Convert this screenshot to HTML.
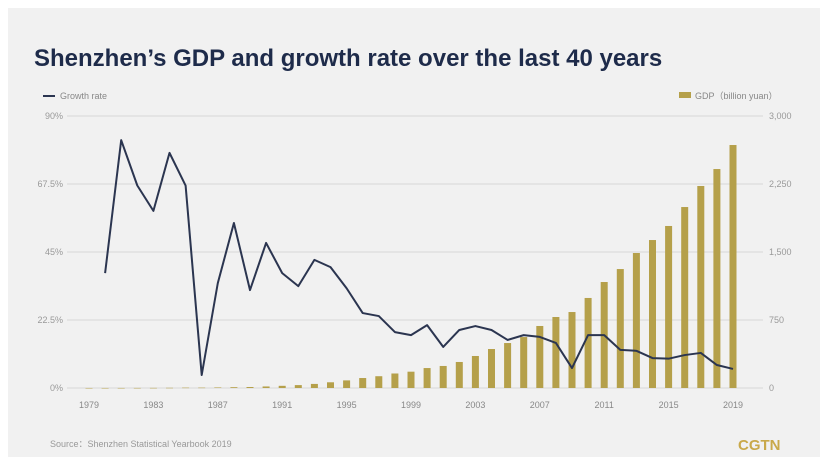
<!DOCTYPE html>
<html><head><meta charset="utf-8"><style>
body{margin:0;background:#fff;}
svg{display:block;font-family:"Liberation Sans",sans-serif;}
</style></head><body>
<svg width="828" height="465" viewBox="0 0 828 465">
<rect x="8" y="8" width="812" height="449" fill="#f1f1f1"/>
<text x="34" y="66" font-size="24" font-weight="bold" fill="#1e2b4a">Shenzhen’s GDP and growth rate over the last 40 years</text>
<g><line x1="43" y1="96" x2="55" y2="96" stroke="#2b3550" stroke-width="2"/><text x="60" y="99" font-size="9" fill="#888">Growth rate</text></g>
<g><rect x="679" y="92" width="12" height="6" fill="#b5a04a"/><text x="695" y="99" font-size="9" fill="#888">GDP（billion yuan）</text></g>
<g id="grid"></g><g id="bars"></g><g id="line"></g><g id="axes"></g>
<text x="50" y="447" font-size="9" fill="#999">Source：Shenzhen Statistical Yearbook 2019</text>
<text x="738" y="450" font-size="15" font-weight="bold" fill="#c9a94a">CGTN</text>
</svg>
<script>
const years=[];for(let y=1979;y<=2019;y++)years.push(y);
const gdp=[0.2,0.3,0.5,0.8,1.3,2.3,4,4,6,9,11,17,24,32,45,63,84,110,130,160,180,220,243,287,353,430,496,562,684,783,838,993,1169,1312,1489,1632,1787,1996,2228,2415,2680];
const growth=[null,38,82,67,58.6,77.8,67,4.3,34.7,54.6,32.4,48,38,33.7,42.4,40,33,24.8,23.8,18.5,17.5,20.8,13.6,19.2,20.5,19.2,15.9,17.5,16.9,14.9,6.6,17.5,17.5,12.6,12.3,9.9,9.7,10.9,11.6,7.6,6.3];
const leftTicks=["0%","22.5%","45%","67.5%","90%"];
const rightTicks=["0","750","1,500","2,250","3,000"];
const xLabels=[1979,1983,1987,1991,1995,1999,2003,2007,2011,2015,2019];
const NS="http://www.w3.org/2000/svg";
const X0=89,DX=16.1,Y0=388,H=272;
const xs=y=>X0+(y-1979)*DX;
const yG=v=>Y0-v/90*H;
const yD=v=>Y0-v/3000*H;
function mk(t,a,p){const e=document.createElementNS(NS,t);for(const k in a)e.setAttribute(k,a[k]);p.appendChild(e);return e;}
const grid=document.getElementById('grid'),axes=document.getElementById('axes');
leftTicks.forEach((t,i)=>{const y=Y0-i*H/4;
const l=mk('line',{x1:67,x2:763,y1:y,y2:y,stroke:'#d6d6d6','stroke-width':1},grid);


const a=mk('text',{x:63,y:y+3,'font-size':9,fill:'#999','text-anchor':'end'},axes);a.textContent=t;


const b=mk('text',{x:769,y:y+3,'font-size':9,fill:'#999'},axes);b.textContent=rightTicks[i];

});
xLabels.forEach(yr=>{const t=mk('text',{x:xs(yr),y:408,'font-size':9,fill:'#888','text-anchor':'middle'},axes);t.textContent=yr;

});
const bars=document.getElementById('bars');
years.forEach((yr,i)=>{const top=yD(gdp[i]);const r=mk('rect',{x:xs(yr)-3.5,y:top,width:7,height:Math.max(Y0-top,0.5),fill:'#b5a04a'},bars);

});
let d='';years.forEach((yr,i)=>{if(growth[i]==null)return;d+=(d?'L':'M')+xs(yr)+','+yG(growth[i]);});
const p=mk('path',{d:d,fill:'none',stroke:'#2b3550','stroke-width':2,'stroke-linejoin':'round'},document.getElementById('line'));


</script>
</body></html>
